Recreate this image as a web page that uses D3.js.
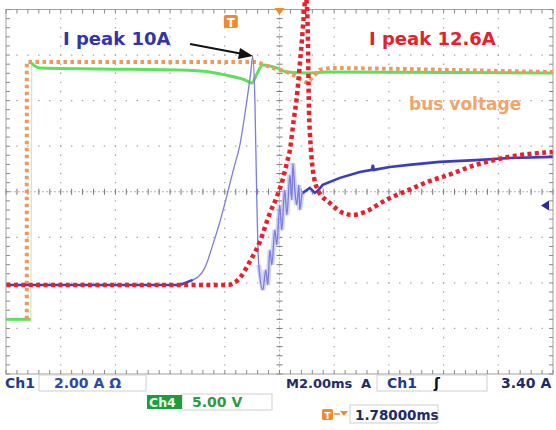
<!DOCTYPE html>
<html>
<head>
<meta charset="utf-8">
<script src="https://cdn.jsdelivr.net/npm/d3@7"></script>
<style>
  body { margin: 0; background: #fff; }
  svg { display: block; font-family: "DejaVu Sans", sans-serif; font-weight: bold; }
</style>
</head>
<body>
<svg id="scope"></svg>
<script>
// ---- data (time in ms from trigger, A, V) ----
const blueTime = [-8.2, -1.86, -1.39, -0.95, -0.66, -0.40, -0.11, 0.11, 0.33, 0.59, 0.73, 0.80,
  0.88, 0.95, 1.02, 1.17, 1.28, 1.35, 1.43, 1.50, 1.61, 1.68, 1.79, 1.86, 1.97, 2.05, 2.16,
  2.23, 2.27, 2.34, 2.41, 2.49, 2.52, 2.60, 2.63, 2.89, 3.07, 3.18, 3.36, 3.99, 4.72, 5.16,
  5.19, 5.23, 5.81, 6.51, 7.64, 8.96, 10.20, 11.77];
const blueAmps = [-0.09, -0.09, 0.13, 0.66, 1.67, 2.68, 3.99, 5.04, 6.05, 8.03, 9.25, 9.95,
  8.03, 3.64, 0.79, -0.31, 0.57, -0.09, 1.45, 0.79, 2.32, 1.67, 3.42, 2.32, 4.08, 2.98, 4.74,
  3.64, 5.26, 4.08, 3.42, 4.30, 3.20, 3.86, 3.95, 4.17, 3.95, 4.04, 4.30, 4.61, 4.87, 4.96,
  5.18, 4.96, 5.09, 5.18, 5.31, 5.39, 5.48, 5.53];

const redTime = [-8.2, -0.11, 0.33, 0.69, 1.06, 1.43, 1.68, 1.86, 2.05, 2.16, 2.30, 2.41,
  2.52, 2.60, 2.67, 2.74, 2.78, 2.82, 2.85, 2.93, 3.00, 3.18, 3.62, 4.10, 4.46, 4.90, 5.67,
  6.51, 7.39, 7.75, 8.96, 10.16, 11.77];
const redAmps = [-0.09, -0.09, 0.22, 0.92, 1.80, 3.07, 3.77, 4.39, 5.26, 5.83, 7.15, 8.11,
  9.56, 10.66, 11.75, 12.6, 12.2, 10.66, 8.03, 5.83, 4.96, 4.08, 3.51, 3.07, 2.98, 3.11, 3.64,
  4.08, 4.52, 4.65, 5.18, 5.53, 5.75];

const greenTime = [-8.2, -7.31, -7.28, -7.17, -6.98, -4.79, -1.86, -0.77, -0.04, 0.51, 0.77,
  0.95, 1.17, 1.68, 2.05, 2.78, 3.62, 11.77];
const greenVolts = [0, 0, 28.13, 27.8, 27.59, 27.48, 27.37, 27.14, 26.7, 26.27, 25.94,
  26.92, 27.91, 27.59, 27.14, 27.04, 27.14, 27.04];

const orangeTime = [-7.46, -7.46, 0.95, 1.43, 2.05, 2.41, 2.71, 2.82, 3.00, 3.25, 3.62, 6.18, 11.77];
const orangeVolts = [0, 28.24, 28.24, 27.69, 27.14, 26.6, 26.05, 25.94, 26.6, 27.37, 27.59, 27.48, 27.14];

// scope settings
const timeDomain = [-8.22, 11.78];   // 2 ms/div, trigger 1.78 ms left of centre
const ampDomain = [-4, 12];          // Ch1 2.00 A/div
const voltDomain = [-6, 34];         // Ch4 5.00 V/div
const triggerLevel = 3.40;
const centerOffset = 1.78;

// ---- layout ----
const width = 556;
const height = 430;
const frame = { left: 6, right: 553, top: 9.5, bottom: 374 };

const svg = d3.select('#scope')
  .attr('width', width)
  .attr('height', height);

const xDiv = d3.scaleLinear().domain([0, 10]).range([frame.left, frame.right]);
const yDiv = d3.scaleLinear().domain([0, 8]).range([frame.top, frame.bottom]);

const xScale = d3.scaleLinear().domain(timeDomain).range([frame.left, frame.right]);
const yAmp = d3.scaleLinear().domain(ampDomain).range([frame.bottom, frame.top]);
const yVolt = d3.scaleLinear().domain(voltDomain).range([frame.bottom, frame.top]);

// ---- graticule ----
const grid = svg.append('g');
const xStep = (xDiv(1) - xDiv(0)) / 5;
const yStep = (yDiv(1) - yDiv(0)) / 5;

grid.selectAll('.vgrid')
  .data(d3.range(1, 10).filter(d => d !== 5))
  .enter().append('line')
  .attr('x1', d => xDiv(d)).attr('x2', d => xDiv(d))
  .attr('y1', frame.top).attr('y2', frame.bottom)
  .attr('stroke', '#a5a5a5')
  .attr('stroke-width', 1.2)
  .attr('stroke-dasharray', `1.4,${yStep - 1.4}`)
  .attr('stroke-dashoffset', 0.7);

grid.selectAll('.hgrid')
  .data(d3.range(1, 8).filter(d => d !== 4))
  .enter().append('line')
  .attr('y1', d => yDiv(d)).attr('y2', d => yDiv(d))
  .attr('x1', frame.left).attr('x2', frame.right)
  .attr('stroke', '#a5a5a5')
  .attr('stroke-width', 1.2)
  .attr('stroke-dasharray', `1.4,${xStep - 1.4}`)
  .attr('stroke-dashoffset', 0.7);

// centre axes
const xc = xDiv(5);
const yc = yDiv(4);
grid.append('line')
  .attr('x1', frame.left).attr('x2', frame.right).attr('y1', yc).attr('y2', yc)
  .attr('stroke', '#b5b5b5').attr('stroke-dasharray', '2,2');
grid.append('line')
  .attr('x1', xc).attr('x2', xc).attr('y1', frame.top).attr('y2', frame.bottom)
  .attr('stroke', '#b5b5b5').attr('stroke-dasharray', '2,2');

const xMinor = d3.range(0, 50.5, 1).map(i => i / 5);
const yMinor = d3.range(0, 40.5, 1).map(i => i / 5);

grid.selectAll('.cxt').data(xMinor).enter().append('line')
  .attr('x1', d => xDiv(d)).attr('x2', d => xDiv(d))
  .attr('y1', yc - 3).attr('y2', yc + 3)
  .attr('stroke', '#777');
grid.selectAll('.cyt').data(yMinor).enter().append('line')
  .attr('y1', d => yDiv(d)).attr('y2', d => yDiv(d))
  .attr('x1', xc - 3).attr('x2', xc + 3)
  .attr('stroke', '#777');

// frame and its ticks
grid.append('rect')
  .attr('x', frame.left).attr('y', frame.top)
  .attr('width', frame.right - frame.left).attr('height', frame.bottom - frame.top)
  .attr('fill', 'none').attr('stroke', '#a0a0a0');

grid.selectAll('.tt').data(xMinor).enter().append('line')
  .attr('x1', d => xDiv(d)).attr('x2', d => xDiv(d))
  .attr('y1', frame.top).attr('y2', frame.top + 4)
  .attr('stroke', '#8a8a8a');
grid.selectAll('.bt').data(xMinor).enter().append('line')
  .attr('x1', d => xDiv(d)).attr('x2', d => xDiv(d))
  .attr('y1', frame.bottom - 4).attr('y2', frame.bottom)
  .attr('stroke', '#8a8a8a');
grid.selectAll('.lt').data(yMinor).enter().append('line')
  .attr('y1', d => yDiv(d)).attr('y2', d => yDiv(d))
  .attr('x1', frame.left).attr('x2', frame.left + 4)
  .attr('stroke', '#8a8a8a');
grid.selectAll('.rt').data(yMinor).enter().append('line')
  .attr('y1', d => yDiv(d)).attr('y2', d => yDiv(d))
  .attr('x1', frame.right - 4).attr('x2', frame.right)
  .attr('stroke', '#8a8a8a');

// ---- traces ----
const zip = (ts, vs) => ts.map((t, i) => ({ t, v: vs[i] }));

const ampLine = d3.line().x(d => xScale(d.t)).y(d => yAmp(d.v));
const voltLine = d3.line().x(d => xScale(d.t)).y(d => yVolt(d.v));

// Ch4: the fast switch-on edge is barely drawn by the scope
const green = zip(greenTime, greenVolts);
const edgeIdx = 2;
svg.append('path')
  .attr('d', voltLine.curve(d3.curveLinear)(green.slice(0, edgeIdx)))
  .attr('fill', 'none').attr('stroke', '#5ee05a').attr('stroke-width', 3);
svg.append('path')
  .attr('d', voltLine.curve(d3.curveLinear)(green.slice(edgeIdx - 1, edgeIdx + 1)))
  .attr('fill', 'none').attr('stroke', '#bff0bd').attr('stroke-width', 1.2);
svg.append('path')
  .attr('d', voltLine.curve(d3.curveMonotoneX)(green.slice(edgeIdx)))
  .attr('fill', 'none').attr('stroke', '#5ee05a').attr('stroke-width', 3);

const orange = zip(orangeTime, orangeVolts);
svg.append('path')
  .attr('d', voltLine.curve(d3.curveLinear)(orange))
  .attr('fill', 'none')
  .attr('stroke', '#ec9a5e')
  .attr('stroke-width', 4)
  .attr('stroke-dasharray', '3.6,3.4');

// Ch1: thick baseline, thin fast edge + ringing, thick recovery
const blue = zip(blueTime, blueAmps);
const thinStart = -1.39;
const thinEnd = 2.63;
const blueA = blue.filter(d => d.t <= thinStart);
const blueB = blue.filter(d => d.t >= thinStart && d.t <= thinEnd);
const blueC = blue.filter(d => d.t >= thinEnd);

svg.append('path')
  .attr('d', ampLine.curve(d3.curveLinear)(blueB.filter(d => d.t >= 1.0)))
  .attr('fill', 'none')
  .attr('stroke', '#c2c2f4')
  .attr('stroke-width', 5)
  .attr('opacity', 0.75);
svg.append('path')
  .attr('d', ampLine.curve(d3.curveMonotoneX)(blueB))
  .attr('fill', 'none')
  .attr('stroke', '#7c7cdc')
  .attr('stroke-width', 1.3);
svg.append('path')
  .attr('d', ampLine.curve(d3.curveLinear)(blueA))
  .attr('fill', 'none')
  .attr('stroke', '#4040b8')
  .attr('stroke-width', 2.6);
svg.append('path')
  .attr('d', ampLine.curve(d3.curveLinear)(blueC))
  .attr('fill', 'none')
  .attr('stroke', '#3c3cc0')
  .attr('stroke-width', 2.6);

const red = zip(redTime, redAmps);
svg.append('path')
  .attr('d', ampLine.curve(d3.curveMonotoneX)(red))
  .attr('fill', 'none')
  .attr('stroke', '#e8202c')
  .attr('stroke-width', 4.5)
  .attr('stroke-dasharray', '4,3.4');

// ---- markers ----
const tx = xScale(0);
svg.append('rect')
  .attr('x', tx - 7).attr('y', 15).attr('width', 14).attr('height', 13).attr('rx', 2)
  .attr('fill', '#f08a30');
svg.append('text')
  .attr('x', tx).attr('y', 26.5).attr('text-anchor', 'middle')
  .attr('font-size', 12).attr('fill', '#fff').text('T');

const cx = xScale(centerOffset);
svg.append('path')
  .attr('d', `M${cx - 5},8 L${cx + 5},8 L${cx},15 Z`)
  .attr('fill', '#f08a30');

const ty = yAmp(triggerLevel);
svg.append('path')
  .attr('d', `M${frame.right - 12},${ty} L${frame.right - 4},${ty - 5} L${frame.right - 4},${ty + 5} Z`)
  .attr('fill', '#2a2a9a');

// ---- annotations ----
svg.append('text')
  .attr('x', 63).attr('y', 45)
  .attr('font-size', 18).attr('fill', '#3434a8')
  .text('I peak 10A');

svg.append('text')
  .attr('x', 369).attr('y', 45)
  .attr('font-size', 18).attr('fill', '#e4202a')
  .text('I peak 12.6A');

svg.append('text')
  .attr('x', 409).attr('y', 110)
  .attr('font-size', 17).attr('fill', '#f4a46a')
  .text('bus voltage');

svg.append('line')
  .attr('x1', 190).attr('y1', 44).attr('x2', 243).attr('y2', 54)
  .attr('stroke', '#111').attr('stroke-width', 2);
svg.append('path')
  .attr('d', 'M253,56 L240,48 L238,59 Z')
  .attr('fill', '#111');

// ---- readout ----
const readout = svg.append('g');
const boxes = [
  [39, 375, 107, 16], [377, 375, 110, 16], [182, 394, 90, 16], [350, 405, 88, 18]
];
readout.selectAll('rect.box').data(boxes).enter().append('rect')
  .attr('x', d => d[0]).attr('y', d => d[1]).attr('width', d => d[2]).attr('height', d => d[3])
  .attr('fill', 'none').attr('stroke', '#cfcfcf');

readout.append('rect')
  .attr('x', 147).attr('y', 395).attr('width', 35).attr('height', 14)
  .attr('fill', '#1f9a3c');

const labels = [
  { text: 'Ch1', x: 5, y: 388, size: 14, color: '#1f3a8f' },
  { text: '2.00 A \u03A9', x: 54, y: 388, size: 14, color: '#2c48a8' },
  { text: 'M2.00ms', x: 286, y: 388, size: 13, color: '#1d2b6b' },
  { text: 'A', x: 361, y: 388, size: 13, color: '#1d2b6b' },
  { text: 'Ch1', x: 387, y: 388, size: 14, color: '#1f3a8f' },
  { text: '\u0283', x: 434, y: 388, size: 14, color: '#111' },
  { text: '3.40 A', x: 501, y: 388, size: 14, color: '#1d2b6b' },
  { text: 'Ch4', x: 149, y: 407, size: 12.5, color: '#e6ffe6' },
  { text: '5.00 V', x: 192, y: 407, size: 14, color: '#2e9a3e' },
  { text: '1.78000ms', x: 355, y: 420, size: 13.5, color: '#1d2b6b' }
];
readout.selectAll('text').data(labels).enter().append('text')
  .attr('x', d => d.x).attr('y', d => d.y)
  .attr('font-size', d => d.size)
  .attr('fill', d => d.color)
  .text(d => d.text);

// trigger-position icon on last row
readout.append('rect')
  .attr('x', 322).attr('y', 409).attr('width', 11).attr('height', 11).attr('rx', 1.5)
  .attr('fill', '#f08a30');
readout.append('text')
  .attr('x', 327.5).attr('y', 418.5).attr('text-anchor', 'middle')
  .attr('font-size', 9).attr('fill', '#fff').text('T');
readout.append('line')
  .attr('x1', 334).attr('y1', 414).attr('x2', 340).attr('y2', 414)
  .attr('stroke', '#f08a30').attr('stroke-width', 1.5);
readout.append('path')
  .attr('d', 'M340,411 L348,411 L344,416 Z')
  .attr('fill', '#f08a30');
</script>
</body>
</html>
